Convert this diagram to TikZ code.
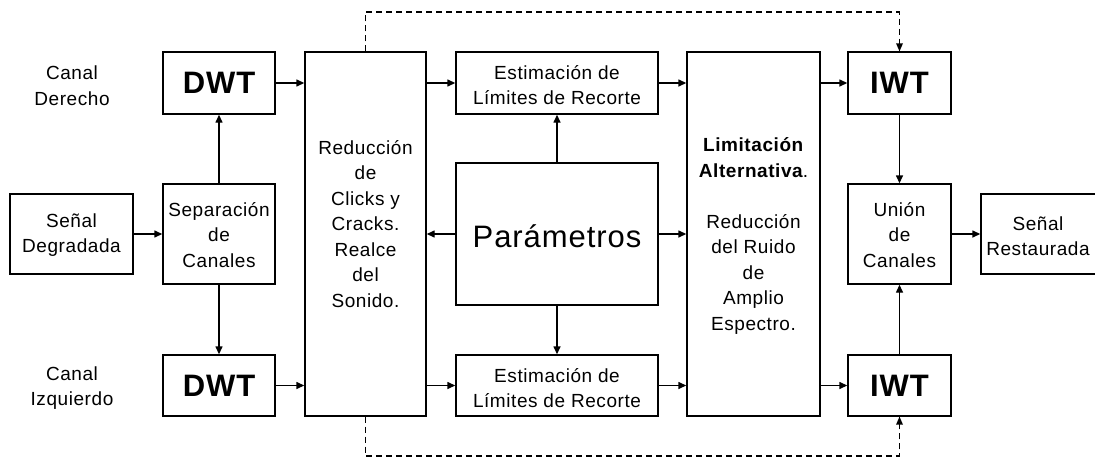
\documentclass[tikz,border=0pt]{standalone}
\usepackage{fontspec}
\setmainfont{Liberation Sans}[LetterSpace=3]
\usetikzlibrary{arrows.meta}
\begin{document}
\begin{tikzpicture}[x=1pt,y=-1pt,
  box/.style={draw,line width=1.4pt,inner sep=0pt},
  lbl/.style={align=center,font=\fontsize{19}{25.5}\selectfont,inner sep=0pt},
  big/.style={font=\fontsize{31}{34}\selectfont\bfseries,inner sep=0pt},
  conn/.style={line width=1.4pt,-{Triangle[length=8pt,width=7pt]}},
  dconn/.style={line width=1.2pt,dash pattern=on 6pt off 4pt}]
\useasboundingbox (0,0) rectangle (1095,458);
\clip (0,0) rectangle (1095,458);
% boxes
\node[box,minimum width=123pt,minimum height=80pt] (sd) at (71.5,234) {};
\node[lbl] at (71.5,235) {Señal\\Degradada};

\node[box,minimum width=112pt,minimum height=100pt] (sep) at (219,234) {};
\node[lbl] at (219,235) {Separación\\de\\Canales};

\node[box,minimum width=112pt,minimum height=62pt] (dwt1) at (219,83) {};
\node[big] at (dwt1) {DWT};
\node[box,minimum width=112pt,minimum height=61pt] (dwt2) at (219,385.5) {};
\node[big] at (dwt2) {DWT};

\node[lbl] at (72,85.5) {Canal\\Derecho};
\node[lbl] at (72,388) {Canal\\Izquierdo};

\node[box,minimum width=121pt,minimum height=364pt] (red) at (365.5,234) {};
\node[lbl] at (365.5,224) {Reducción\\de\\Clicks y\\Cracks.\\Realce\\del\\Sonido.};

\node[box,minimum width=202pt,minimum height=62pt] (est1) at (557,83) {};
\node[lbl] at (557,85) {Estimación de\\Límites de Recorte};
\node[box,minimum width=202pt,minimum height=61pt] (est2) at (557,385.5) {};
\node[lbl] at (557,388) {Estimación de\\Límites de Recorte};

\node[box,minimum width=202pt,minimum height=142pt] (par) at (557,234) {};
\node[inner sep=0pt,font=\fontsize{31}{34}\selectfont] at (557,236) {Parámetros};

\node[box,minimum width=133pt,minimum height=364pt] (lim) at (753.5,234) {};
\node[lbl] at (753.5,236) {\textbf{Limitación}\\\textbf{Alternativa}.\\[25.5pt]Reducción\\del Ruido\\de\\Amplio\\Espectro.};

\node[box,minimum width=103pt,minimum height=62pt] (iwt1) at (899.5,83) {};
\node[big] at (iwt1) {IWT};
\node[box,minimum width=103pt,minimum height=61pt] (iwt2) at (899.5,385.5) {};
\node[big] at (iwt2) {IWT};

\node[box,minimum width=103pt,minimum height=100pt] (uni) at (899.5,234) {};
\node[lbl] at (899.5,235) {Unión\\de\\Canales};

\node[box,minimum width=130pt,minimum height=80pt] (sr) at (1046,234) {};
\node[lbl] at (1038,236) {Señal\\Restaurada};

% connectors
\draw[conn] (sd.east) -- (sep.west);
\draw[conn] (sep.north) -- (dwt1.south);
\draw[conn] (sep.south) -- (dwt2.north);
\draw[conn] (dwt1.east) -- (dwt1.east -| red.west);
\draw[conn] (dwt2.east) -- (dwt2.east -| red.west);
\draw[conn] (est1.west -| red.east) -- (est1.west);
\draw[conn] (est2.west -| red.east) -- (est2.west);
\draw[conn] (est1.east) -- (est1.east -| lim.west);
\draw[conn] (est2.east) -- (est2.east -| lim.west);
\draw[conn] (iwt1.west -| lim.east) -- (iwt1.west);
\draw[conn] (iwt2.west -| lim.east) -- (iwt2.west);
\draw[conn] (par.west) -- (par.west -| red.east);
\draw[conn] (par.east) -- (par.east -| lim.west);
\draw[conn] (par.north) -- (est1.south);
\draw[conn] (par.south) -- (est2.north);
\draw[conn] (iwt1.south) -- (uni.north);
\draw[conn] (iwt2.north) -- (uni.south);
\draw[conn] (uni.east) -- (sr.west);
\coordinate (t1) at (365.5,12);
\coordinate (t2) at (899.5,12);
\coordinate (b1) at (365.5,456);
\coordinate (b2) at (899.5,456);
\draw[dconn] (red.north) -- (t1) -- (t2) -- (iwt1.north);
\draw[dconn] (red.south) -- (b1) -- (b2) -- (iwt2.south);
\fill (iwt1.north) -- ++(-3.5,-8) -- ++(7,0) -- cycle;
\fill (iwt2.south) -- ++(-3.5,8) -- ++(7,0) -- cycle;
\end{tikzpicture}
\end{document}
